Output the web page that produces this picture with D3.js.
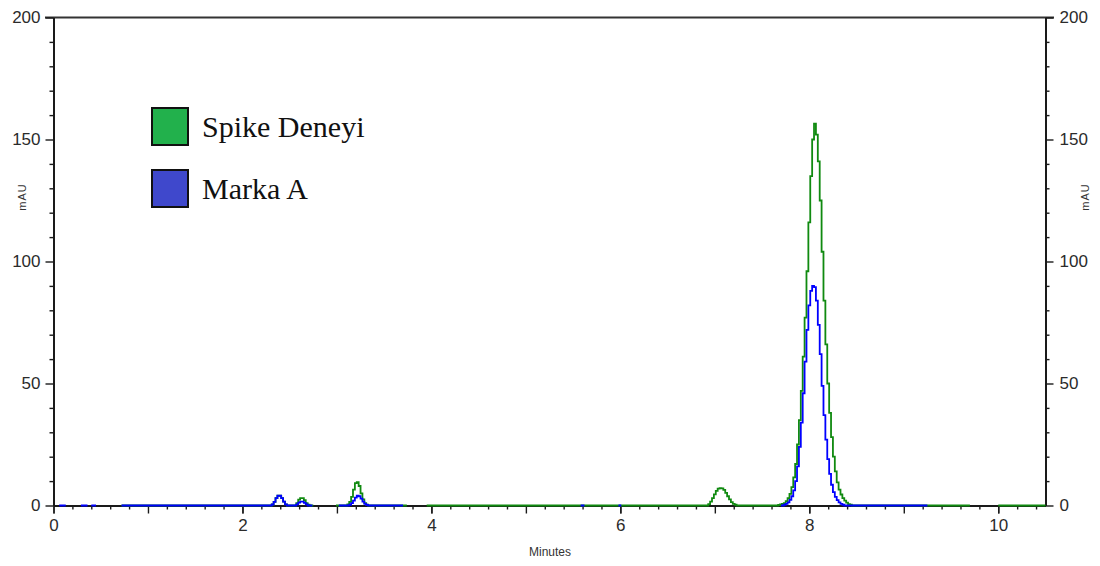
<!DOCTYPE html>
<html>
<head>
<meta charset="utf-8">
<script src="https://cdn.jsdelivr.net/npm/d3@7"></script>
<style>
    body { margin: 0; background: #fff; }
    svg { display: block; }
    .axis text { font-family: "Liberation Sans", Arial, sans-serif; font-size: 17px; fill: #2b2b2b; }
    .axis path, .axis line { stroke: #1a1a1a; }
</style>
</head>
<body>
<svg id="chart" width="1100" height="566"></svg>
<script>
// [minutes, mAU]; null = gap in the trace
const spikeDeneyi = [
    [0.72, 0], [2.30, 0], [2.32, 0.4], [2.34, 1.5], [2.36, 3.0], [2.38, 4.0], [2.40, 4.0], [2.42, 3.0], [2.44, 1.6], [2.46, 0.5], [2.48, 0],
    [2.56, 0], [2.58, 1.0], [2.60, 2.4], [2.62, 3.0], [2.64, 3.0], [2.66, 2.2], [2.68, 1.0], [2.70, 0.3], [2.72, 0], [2.75, 0], [2.76, null],
    [2.99, 0], [3.10, 0], [3.12, 0.5], [3.14, 1.5], [3.16, 3.5], [3.18, 6.5], [3.20, 9.2], [3.22, 9.6], [3.24, 8.0], [3.26, 5.0], [3.28, 2.5],
    [3.30, 1.0], [3.32, 0.3], [3.34, 0], [3.74, 0], [3.75, null],
    [3.95, 0], [6.92, 0], [6.94, 0.6], [6.96, 1.6], [6.98, 3.0], [7.00, 4.6], [7.02, 6.0], [7.04, 6.9], [7.06, 7.1], [7.08, 7.0], [7.10, 6.4],
    [7.12, 5.2], [7.14, 3.8], [7.16, 2.5], [7.18, 1.4], [7.20, 0.7], [7.22, 0.3], [7.24, 0],
    [7.66, 0], [7.68, 0.2], [7.70, 0.4], [7.72, 0.7], [7.74, 1.0], [7.76, 1.8], [7.78, 3.0], [7.80, 4.8], [7.82, 7.5], [7.84, 11.5], [7.86, 17],
    [7.88, 25], [7.90, 35], [7.92, 47], [7.94, 61], [7.96, 77], [7.98, 96], [8.00, 116], [8.02, 135], [8.04, 150], [8.06, 156.5], [8.08, 152],
    [8.10, 141], [8.12, 125], [8.14, 104], [8.16, 84], [8.18, 66], [8.20, 50], [8.22, 38], [8.24, 28], [8.26, 20], [8.28, 14], [8.30, 9.5],
    [8.32, 6.5], [8.34, 4.5], [8.36, 3.0], [8.38, 2.0], [8.40, 1.2], [8.42, 0.6], [8.44, 0.3], [8.46, 0],
    [9.70, 0], [9.71, null], [10.00, 0], [10.50, 0]
];

const markaA = [
    [0.06, 0], [0.13, 0], [0.14, null], [0.29, 0], [0.36, 0], [0.37, null], [0.40, 0], [0.45, 0], [0.46, null],
    [0.72, 0], [2.30, 0], [2.32, 0.4], [2.34, 1.5], [2.36, 3.0], [2.38, 4.0], [2.40, 4.0], [2.42, 3.0], [2.44, 1.6], [2.46, 0.5], [2.48, 0],
    [2.56, 0], [2.58, 0.5], [2.60, 1.2], [2.62, 1.6], [2.64, 1.6], [2.66, 1.1], [2.68, 0.5], [2.70, 0], [2.74, 0], [2.75, null],
    [3.02, 0], [3.12, 0], [3.14, 0.3], [3.16, 1.0], [3.18, 2.0], [3.20, 3.2], [3.22, 4.0], [3.24, 3.8], [3.26, 2.8], [3.28, 1.6], [3.30, 0.7],
    [3.32, 0.2], [3.34, 0], [3.70, 0], [3.71, null],
    [5.58, 0], [5.62, 0], [5.63, null], [5.98, 0], [6.01, 0], [6.02, null],
    [7.70, 0], [7.72, 0], [7.74, 0.3], [7.76, 0.7], [7.78, 1.3], [7.80, 2.3], [7.82, 3.8], [7.84, 6.2], [7.86, 10], [7.88, 16], [7.90, 24],
    [7.92, 34], [7.94, 46], [7.96, 59], [7.98, 72], [8.00, 82], [8.02, 88], [8.04, 90], [8.06, 89.5], [8.08, 84], [8.10, 74], [8.12, 62],
    [8.14, 49], [8.16, 37], [8.18, 27], [8.20, 19], [8.22, 13], [8.24, 8.5], [8.26, 5.5], [8.28, 3.5], [8.30, 2.2], [8.32, 1.3], [8.34, 0.7],
    [8.36, 0.3], [8.38, 0], [9.25, 0]
];

const xLabelTicks = [0, 2, 4, 6, 8, 10];
const xMajorTicks = [0, 1, 2, 3, 4, 5, 6, 7, 8, 9, 10];
const yLabelTicks = [0, 50, 100, 150, 200];
const legendLabels = ["Spike Deneyi", "Marka A"];
const legendColors = ["#22b14c", "#3f48cc"];
const traceColors = ["#108a10", "#0000ff"];

const svg = d3.select("#chart");

const x = d3.scaleLinear().domain([0, 10.5]).range([53.5, 1045.5]);
const y = d3.scaleLinear().domain([0, 200]).range([505.5, 17.5]);

const xMinor = d3.range(0, 10.5, 0.2).filter(v => Math.abs(v - Math.round(v)) > 0.01);
const yMinor = d3.range(0, 200, 10).filter(v => v % 50 !== 0);

// top frame line
svg.append("line")
    .attr("x1", 45).attr("x2", 1054)
    .attr("y1", y(200)).attr("y2", y(200))
    .attr("stroke", "#333").attr("stroke-width", 2);

// minor ticks first
svg.append("g").attr("class", "axis")
    .attr("transform", `translate(0,${y(0)})`)
    .call(d3.axisBottom(x).tickValues(xMinor).tickSize(4).tickFormat("").tickSizeOuter(0))
    .call(g => g.select(".domain").remove());
svg.append("g").attr("class", "axis")
    .attr("transform", `translate(${x(0)},0)`)
    .call(d3.axisLeft(y).tickValues(yMinor).tickSize(4).tickFormat("").tickSizeOuter(0))
    .call(g => g.select(".domain").remove());
svg.append("g").attr("class", "axis")
    .attr("transform", `translate(${x(10.5)},0)`)
    .call(d3.axisRight(y).tickValues(yMinor).tickSize(4).tickFormat("").tickSizeOuter(0))
    .call(g => g.select(".domain").remove());

// unlabeled whole-minute ticks
svg.append("g").attr("class", "axis")
    .attr("transform", `translate(0,${y(0)})`)
    .call(d3.axisBottom(x).tickValues(xMajorTicks).tickSize(8).tickFormat("").tickSizeOuter(0))
    .call(g => g.select(".domain").remove());

// labeled axes
const xAxis = svg.append("g").attr("class", "axis")
    .attr("transform", `translate(0,${y(0)})`)
    .call(d3.axisBottom(x).tickValues(xLabelTicks).tickSize(8).tickPadding(5).tickSizeOuter(0));
const yLeft = svg.append("g").attr("class", "axis")
    .attr("transform", `translate(${x(0)},0)`)
    .call(d3.axisLeft(y).tickValues(yLabelTicks).tickSize(8).tickPadding(5).tickSizeOuter(0));
const yRight = svg.append("g").attr("class", "axis")
    .attr("transform", `translate(${x(10.5)},0)`)
    .call(d3.axisRight(y).tickValues(yLabelTicks).tickSize(8).tickPadding(6).tickSizeOuter(0));

svg.selectAll(".axis path.domain").attr("stroke-width", 2);
svg.selectAll(".axis .tick line").attr("stroke-width", 1.4);

// axis titles
svg.append("text")
    .attr("transform", "translate(26,197) rotate(-90)")
    .attr("text-anchor", "middle")
    .style("font-family", "Liberation Sans, Arial, sans-serif")
    .style("font-size", "11px").style("letter-spacing", "1px")
    .attr("fill", "#333")
    .text("mAU");
svg.append("text")
    .attr("transform", "translate(1089,197) rotate(-90)")
    .attr("text-anchor", "middle")
    .style("font-family", "Liberation Sans, Arial, sans-serif")
    .style("font-size", "11px").style("letter-spacing", "1px")
    .attr("fill", "#333")
    .text("mAU");
svg.append("text")
    .attr("x", 550).attr("y", 556)
    .attr("text-anchor", "middle")
    .style("font-family", "Liberation Sans, Arial, sans-serif")
    .style("font-size", "12px")
    .attr("fill", "#333")
    .text("Minutes");

// traces
const line = d3.line()
    .defined(d => d[1] !== null)
    .x(d => x(d[0]))
    .y(d => y(d[1]))
    .curve(d3.curveStep);

[spikeDeneyi, markaA].forEach((series, i) => {
    svg.append("path")
        .datum(series)
        .attr("fill", "none")
        .attr("stroke", traceColors[i])
        .attr("stroke-width", 1.8)
        .attr("d", line);
});

// legend
const legend = svg.selectAll(".legend")
    .data(legendLabels)
    .enter().append("g")
    .attr("class", "legend")
    .attr("transform", (d, i) => `translate(152,${108 + i * 62})`);

legend.append("rect")
    .attr("width", 36).attr("height", 37)
    .attr("fill", (d, i) => legendColors[i])
    .attr("stroke", "#111").attr("stroke-width", 2);

legend.append("text")
    .attr("x", 50).attr("y", 29)
    .style("font-family", "Liberation Serif, Times New Roman, serif")
    .style("font-size", "30px")
    .attr("fill", "#111")
    .text(d => d);
</script>
</body>
</html>
